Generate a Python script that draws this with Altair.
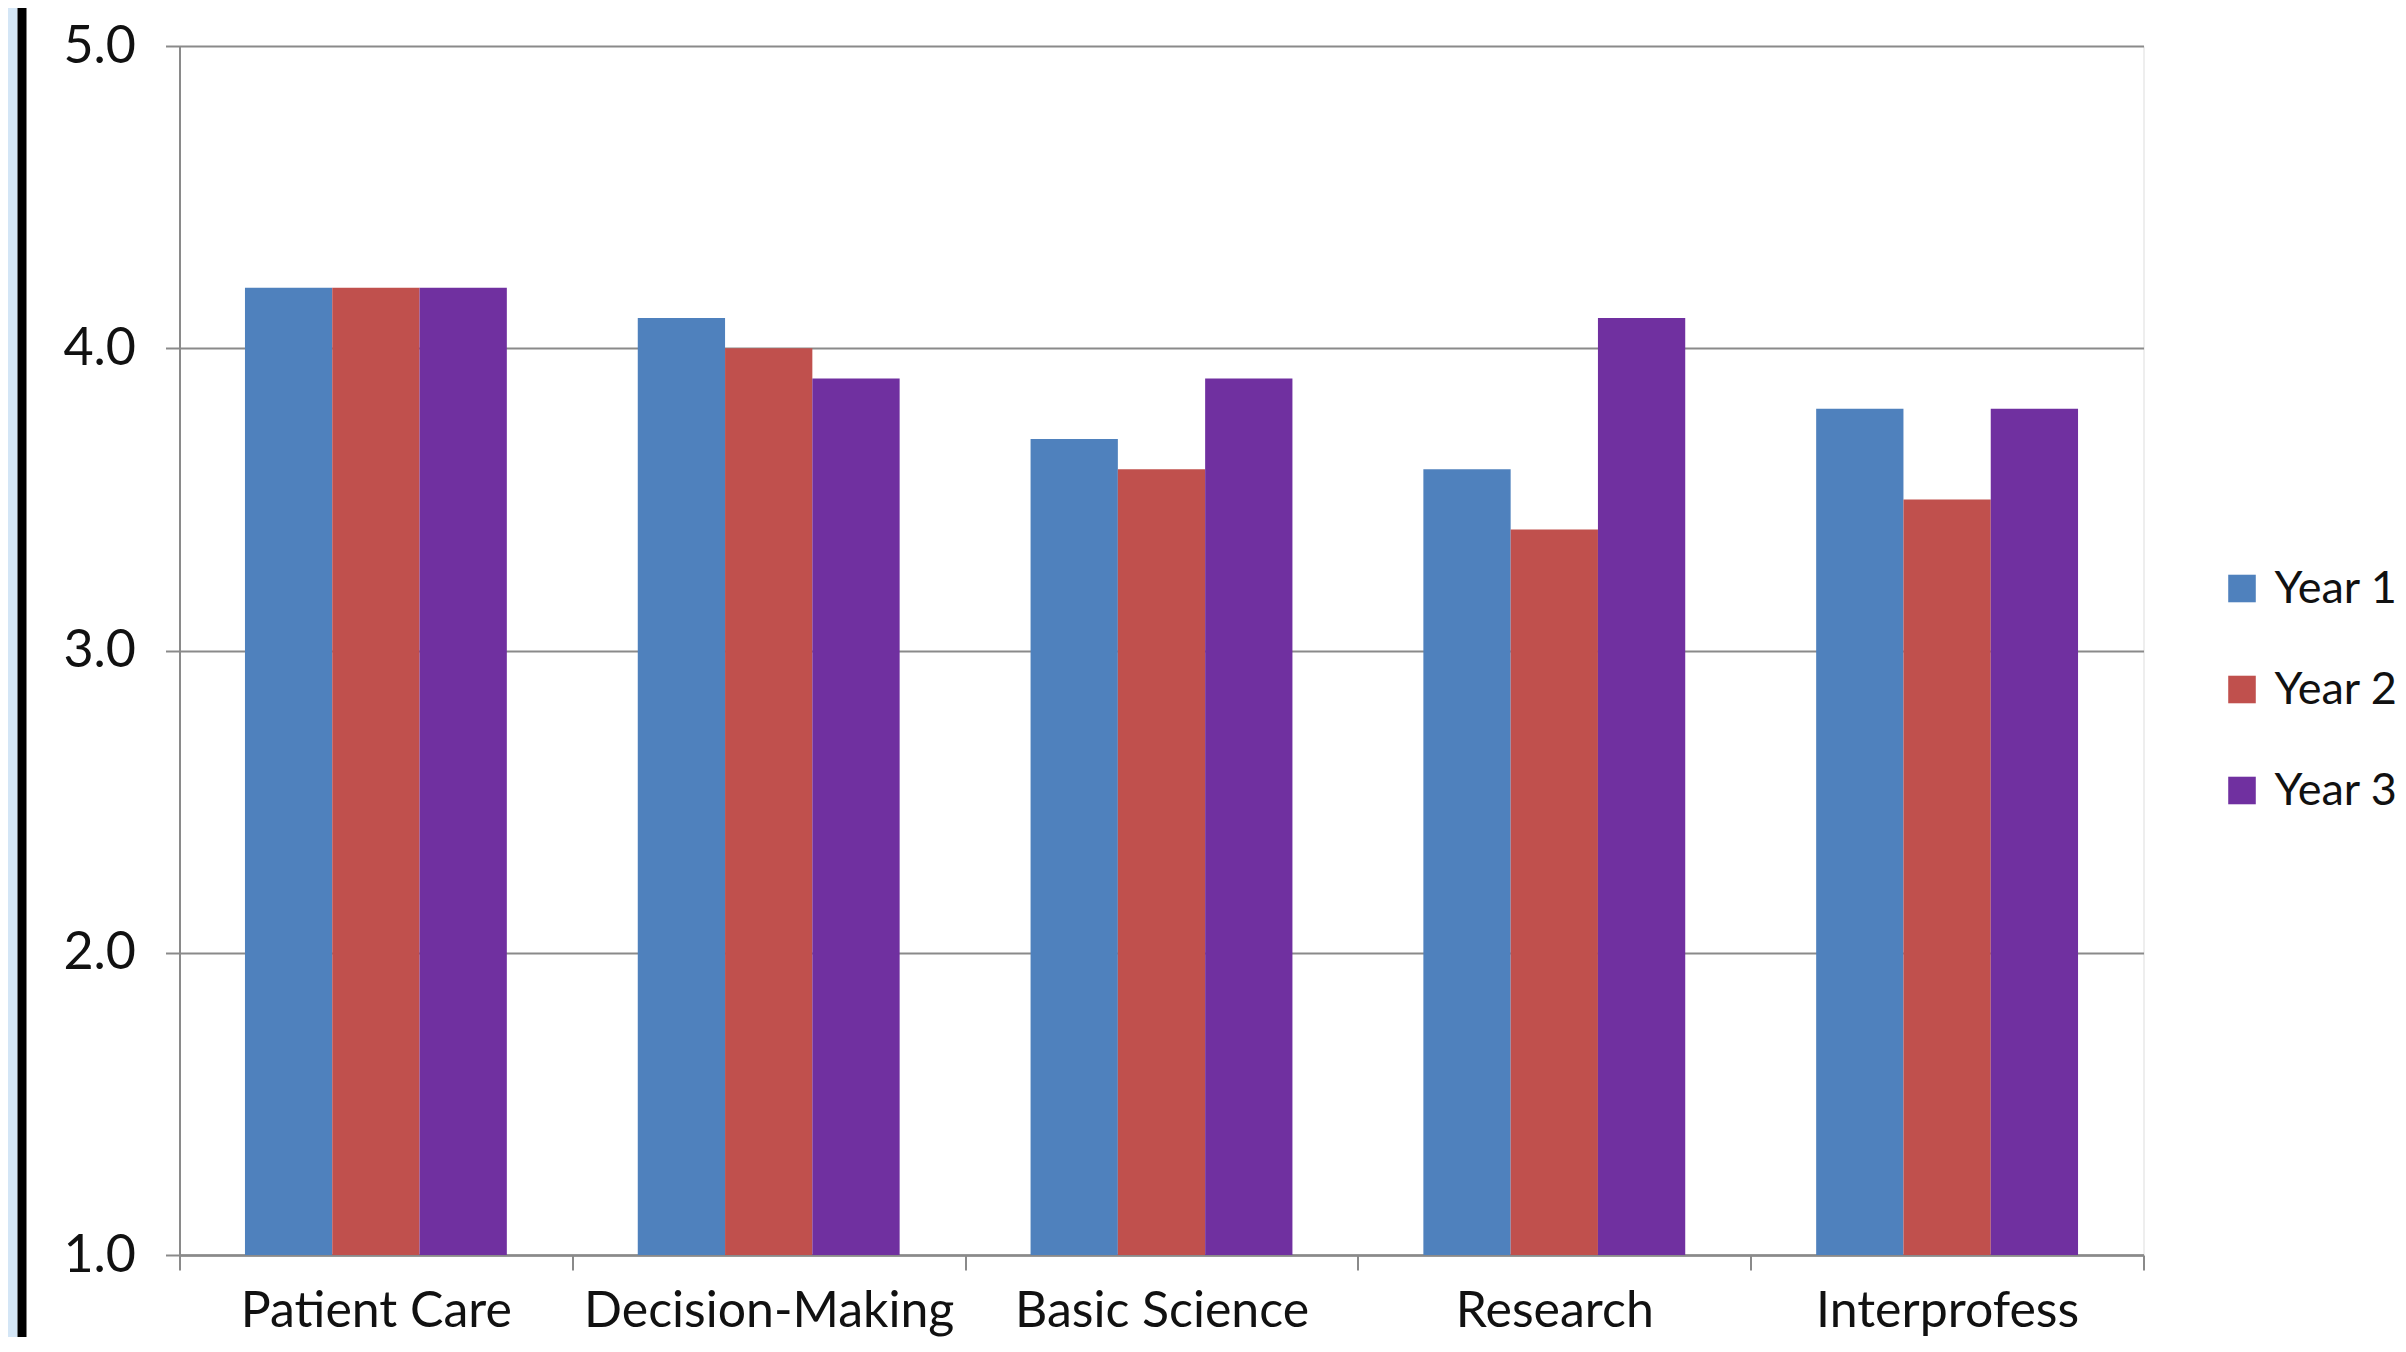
import altair as alt
import pandas as pd

categories = ["Patient Care", "Decision-Making", "Basic Science", "Research", "Interprofess"]
years = ["Year 1", "Year 2", "Year 3"]
year1 = [4.2, 4.1, 3.7, 3.6, 3.8]
year2 = [4.2, 4.0, 3.6, 3.4, 3.5]
year3 = [4.2, 3.9, 3.9, 4.1, 3.8]
colors = ["#4F81BD", "#C0504D", "#7030A0"]
y_ticks = [1, 2, 3, 4, 5]

rows = []
for yr, vals in zip(years, [year1, year2, year3]):
    for c, v in zip(categories, vals):
        rows.append({"Category": c, "Year": yr, "Score": v})
df = pd.DataFrame(rows)

FONT = "Lato"
FS = 50
W, H = 1964, 1209
GRAY = "#8A8A8A"
TXT = "#111111"

bars = alt.Chart(df).mark_bar().encode(
    x=alt.X("Category:N", sort=categories,
            scale=alt.Scale(paddingInner=0, paddingOuter=0),
            axis=alt.Axis(title=None, labelAngle=0, tickBand="extent", grid=False,
                          tickSize=15, tickColor=GRAY, tickWidth=2,
                          domainColor=GRAY, domainWidth=2.5,
                          labelFontSize=FS, labelFont=FONT, labelColor=TXT,
                          labelLimit=0, labelPadding=16, labelBaseline="top")),
    xOffset=alt.XOffset("Year:N", sort=years,
                        scale=alt.Scale(paddingInner=0, paddingOuter=0.75)),
    y=alt.Y("Score:Q", scale=alt.Scale(domain=[1, 5], zero=False, nice=False),
            axis=alt.Axis(title=None, values=y_ticks, format=".1f",
                          grid=True, gridColor=GRAY, gridWidth=2,
                          tickSize=14, tickColor=GRAY, tickWidth=2,
                          domainColor=GRAY, domainWidth=2,
                          labelFontSize=FS + 2, labelFont=FONT, labelColor=TXT,
                          labelPadding=30)),
    y2=alt.datum(1),
    color=alt.Color("Year:N", sort=years,
                    scale=alt.Scale(domain=years, range=colors),
                    legend=alt.Legend(title=None, orient="none", legendX=2040, legendY=520,
                                      symbolType="square", symbolSize=760,
                                      symbolStrokeWidth=0, labelLimit=0,
                                      labelFontSize=45, labelFont=FONT,
                                      labelColor=TXT, labelOffset=10,
                                      rowPadding=55)),
)

one = alt.Data(values=[{}])
stripe = alt.Chart(one).mark_rect(color="#D4E6F6").encode(
    x=alt.value(-171.5), x2=alt.value(-162), y=alt.value(-38), y2=alt.value(H + 90))
blackbar = alt.Chart(one).mark_rect(color="#000000").encode(
    x=alt.value(-162), x2=alt.value(-153), y=alt.value(-38), y2=alt.value(H + 90))

chart = alt.layer(stripe, blackbar, bars).properties(
    width=W, height=H,
    padding={"left": 171.5, "top": 38, "right": 254, "bottom": 82},
    autosize=alt.AutoSizeParams(type="none"),
).configure_view(stroke="transparent", strokeWidth=0).configure(background="white")

chart.save("out.html", embed_options={"renderer": "svg", "actions": False})
